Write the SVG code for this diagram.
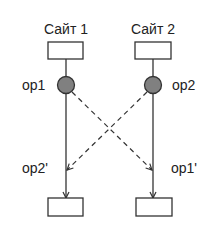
<svg xmlns="http://www.w3.org/2000/svg" width="220" height="240" viewBox="0 0 220 240">
<defs>
<style>
.box{fill:#fff;stroke:#333;stroke-width:1.3}
.op{fill:#808080;stroke:#333;stroke-width:1.3}
.ln{stroke:#333;stroke-width:1.3;fill:none}
.dash{stroke:#333;stroke-width:1.2;fill:none;stroke-dasharray:5,4}
text{font-family:"Liberation Sans",Arial,sans-serif;font-size:14px;fill:#222}
</style>
<marker id="ah" markerWidth="8" markerHeight="8" refX="7" refY="4" orient="auto" markerUnits="userSpaceOnUse">
<path d="M1,1 L7,4 L1,7" fill="none" stroke="#333" stroke-width="1.2"/>
</marker>
</defs>
<rect width="220" height="240" fill="#fff"/>
<g id="connectors">
<line class="ln" x1="66" y1="59" x2="66" y2="77"/>
<line class="ln" x1="153" y1="59" x2="153" y2="77"/>
<line class="ln" x1="66" y1="93" x2="66" y2="198" marker-end="url(#ah)"/>
<line class="ln" x1="153" y1="93" x2="153" y2="198" marker-end="url(#ah)"/>
<line class="dash" x1="72" y1="92" x2="152" y2="170" marker-end="url(#ah)"/>
<line class="dash" x1="147" y1="92" x2="67" y2="170" marker-end="url(#ah)"/>
</g>
<g id="site1">
<text x="66" y="34" text-anchor="middle">Сайт 1</text>
<rect class="box" x="48" y="42" width="35" height="17"/>
</g>
<g id="site2">
<text x="153" y="34" text-anchor="middle">Сайт 2</text>
<rect class="box" x="135" y="42" width="36" height="17"/>
</g>
<g id="op1">
<circle class="op" cx="66" cy="85" r="8.5"/>
<text x="22" y="90">op1</text>
</g>
<g id="op2">
<circle class="op" cx="153" cy="85" r="8.5"/>
<text x="172" y="90">op2</text>
</g>
<g id="op2p"><text x="22" y="173">op2'</text></g>
<g id="op1p"><text x="171" y="173">op1'</text></g>
<g id="res1"><rect class="box" x="48" y="198" width="35" height="18"/></g>
<g id="res2"><rect class="box" x="136" y="198" width="36" height="18"/></g>
</svg>
